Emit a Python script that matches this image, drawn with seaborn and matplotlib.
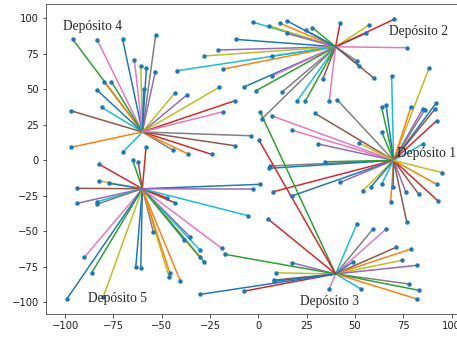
import matplotlib
matplotlib.use("Agg")
import matplotlib.pyplot as plt
import seaborn as sns
import pandas as pd

# Depot locations
depot_names = ["Depósito 1", "Depósito 2", "Depósito 3", "Depósito 4", "Depósito 5"]
depot_x = [70, 40, 40, -60, -60]
depot_y = [0, 80, -80, 20, -20]

# Customers served by each depot
d1_x = [69.0, 88.3, 63.8, 66.1, 79.0, 85.0, 86.1, 91.9, 91.4, 92.3, 63.8, 85.0, 40.9, 29.3,
        6.9, 17.3, 31.0, 52.3, 6.1, 5.7, 34.5, 7.8, 17.3, 42.3, 54.0, 58.3, 63.8, 68.5,
        69.8, 76.3, 83.1, 76.8, 93.1, 92.3, 95.2]
d1_y = [59.4, 64.8, 37.3, 38.9, 37.7, 36.1, 35.4, 40.1, 36.1, 27.9, 20.1, 11.5, 42.5, 33.1,
        31.4, 21.3, 11.5, 12.0, -4.0, -5.6, -1.0, -22.1, -25.1, -15.5, -21.4, -18.6, -16.9, -29.1,
        -19.0, -22.1, -24.0, -43.2, -28.7, -16.9, -8.7]

d2_x = [-2.9, 5.7, 11.2, 15.0, 14.7, 24.7, 28.0, -11.7, -21.0, -27.9, -42.1, -18.1, 7.3,
        -7.2, 7.2, -1.2, 12.1, 1.8, 20.2, 24.2, 33.3, 36.7, 42.3, 57.3, 55.6, 70.2, 77.1,
        50.9, 52.3, 60.0]
d2_y = [97.4, 94.8, 96.5, 98.1, 89.4, 91.5, 93.5, 85.2, 77.7, 73.5, 63.1, 64.3, 73.5,
        51.8, 59.4, 49.0, 47.9, 29.1, 42.0, 41.5, 57.0, 42.0, 96.5, 95.3, 89.4, 99.3, 79.3,
        70.1, 66.4, 57.7]

d3_x = [50.9, 59.2, 66.1, 71.2, 78.8, 74.2, 82.3, 78.1, 83.1, 82.3, 53.1, 49.1, 36.7,
        17.3, 9.0, 8.3, 8.1, -7.4, -30.2, 5.2, -17.2, 0.9, 0.3]
d3_y = [-45.1, -48.6, -48.4, -61.3, -62.5, -70.4, -73.9, -87.1, -91.5, -97.7, -90.6, -71.4, -90.6,
        -72.1, -79.2, -84.3, -85.2, -92.1, -94.4, -41.5, -66.2, 34.2, 14.3]

d4_x = [-96.0, -83.3, -70.2, -53.1, -64.1, -60.8, -57.9, -53.3, -59.3, -79.8, -76.0, -83.3,
        -81.0, -96.9, -96.9, -70.2, -44.0, -36.2, -24.1, -12.1, -3.6, -43.2, -37.0, -20.3,
        -12.1, -18.4]
d4_y = [85.2, 84.7, 85.2, 88.2, 70.4, 66.4, 64.8, 62.4, 50.4, 55.4, 55.4, 49.3,
        37.3, 34.9, 9.2, 5.6, 7.0, 4.4, 4.2, 10.3, 17.3, 47.4, 46.0, 51.4,
        42.0, 34.2]

d5_x = [-58.1, -65.0, -62.1, -82.3, -82.4, -77.1, -93.9, -93.9, -83.6, -83.3, -90.0, -86.2,
        -99.1, -80.2, -63.4, -60.8, -54.3, -46.2, -40.4, -45.7, -38.5, -35.2, -30.2, -30.2,
        -28.1, -18.9, -43.3, -47.4, -5.2, 0.9, -2.9]
d5_y = [9.2, 0.2, -1.4, -2.8, -14.4, -16.2, -19.7, -30.3, -29.2, -30.8, -68.3, -79.2,
        -97.7, -96.0, -75.4, -76.1, -50.5, -82.0, -84.8, -79.6, -55.8, -54.0, -63.2, -68.3,
        -71.4, -62.0, -29.8, -26.3, -39.0, -16.9, -20.2]

# Colour (tab10 index) of each route segment
d1_col = [9, 8, 2, 0, 1, 4, 7, 0, 5, 3, 2, 9, 7, 5, 6, 6, 4, 8, 7, 0, 2, 3, 0, 4, 8, 0, 9, 1,
          0, 4, 5, 5, 3, 1, 8]
d2_col = [9, 8, 1, 0, 4, 0, 2, 0, 4, 8, 9, 1, 9, 0, 6, 2, 7, 7, 9, 2, 5, 6, 3, 8, 0, 3, 6,
          7, 0, 5]
d3_col = [9, 7, 6, 5, 1, 8, 4, 7, 2, 1, 9, 0, 6, 4, 8, 5, 0, 3, 0, 3, 2, 2, 3]
d4_col = [2, 6, 0, 7, 6, 8, 0, 4, 0, 1, 2, 0, 9, 5, 1, 9, 7, 1, 3, 5, 7, 8, 4, 8, 3, 6]
d5_col = [3, 2, 5, 3, 8, 0, 5, 4, 9, 7, 6, 2, 0, 8, 0, 0, 7, 8, 1, 1, 0, 4, 9, 1, 2, 6, 3, 3,
          9, 0, 4]

# Label anchor for each depot name
label_x = [71.6, 67.8, 21.6, -100.9, -88.3]
label_y = [5.0, 90.6, -99.6, 94.6, -97.2]

customers_x = [d1_x, d2_x, d3_x, d4_x, d5_x]
customers_y = [d1_y, d2_y, d3_y, d4_y, d5_y]
route_colours = [d1_col, d2_col, d3_col, d4_col, d5_col]

# Long-form table: one two-point segment per customer (depot -> customer)
rows = []
seg_palette = {}
tab10 = sns.color_palette("tab10")
seg = 0
for d in range(len(depot_x)):
    for cx, cy, ci in zip(customers_x[d], customers_y[d], route_colours[d]):
        rows.append({"x": depot_x[d], "y": depot_y[d], "seg": seg})
        rows.append({"x": cx, "y": cy, "seg": seg})
        seg_palette[seg] = tab10[ci]
        seg += 1
segments = pd.DataFrame(rows)
points = pd.DataFrame({
    "x": [v for xs in customers_x for v in xs],
    "y": [v for ys in customers_y for v in ys],
})

sns.set_style("ticks")
fig = plt.figure(figsize=(457 / 72, 337 / 72), dpi=72)
ax = fig.add_axes([0.1, 0.0691, 0.9304, 0.919])

sns.lineplot(data=segments, x="x", y="y", hue="seg", palette=seg_palette,
             estimator=None, sort=False, legend=False, linewidth=1.5, ax=ax)
sns.scatterplot(data=points, x="x", y="y", color=tab10[0], s=20, linewidth=0,
                zorder=3, ax=ax)

for name, lx, ly in zip(depot_names, label_x, label_y):
    ax.text(lx, ly, name, fontsize=13.5, family="Liberation Serif",
            ha="left", va="center", zorder=4)

ax.set_xlim(-110, 110)
ax.set_ylim(-108, 110.1)
ax.set_xticks([-100, -75, -50, -25, 0, 25, 50, 75, 100])
ax.set_yticks([-100, -75, -50, -25, 0, 25, 50, 75, 100])
ax.set_xlabel("")
ax.set_ylabel("")
for s in ax.spines.values():
    s.set_visible(True)
    s.set_color("#444444")
ax.tick_params(colors="#222222", labelsize=10)

fig.savefig("out.png", dpi=72)
